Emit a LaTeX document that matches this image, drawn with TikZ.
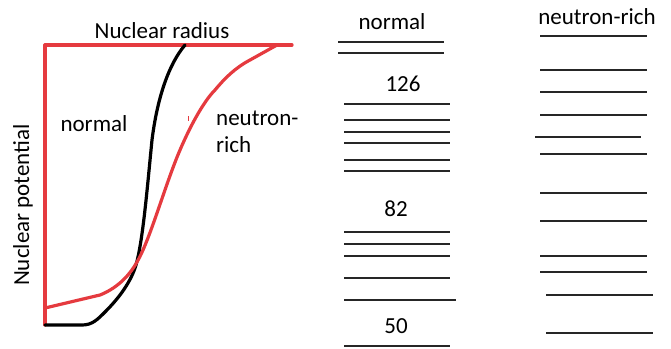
\documentclass[tikz,border=0pt]{standalone}
\usepackage{fontspec}
\setmainfont{Carlito}
\definecolor{axred}{HTML}{E53A3F}
\begin{document}
\begin{tikzpicture}[x=1pt,y=-1pt,
  lbl/.style={font=\fontsize{23}{27}\selectfont, inner sep=0pt, text=black},
  redline/.style={draw=axred, line width=3.2pt, line join=round},
  blkcurve/.style={draw=black, line width=3.2pt, line join=round, line cap=round},
  lvl/.style={draw=black!85, line width=1.5pt}]
\useasboundingbox (0,0) rectangle (671,348);
% axes
\draw[redline, line cap=round] (45,325) -- (45,45) -- (292,45);
% black potential (normal)
\draw[blkcurve] (45,325) -- (82,325) .. controls (92,325) and (97,320) .. (105,312)
  .. controls (115,302) and (130,285) .. (136,265)
  .. controls (143,240) and (147,190) .. (152,140)
  .. controls (157,100) and (168,65) .. (185,45);
% red potential (neutron-rich)
\draw[redline, line cap=round] (45,308) -- (100,295) .. controls (115,289) and (128,278) .. (137,262)
  .. controls (150,240) and (165,185) .. (180,150)
  .. controls (192,122) and (205,100) .. (215,90)
  .. controls (225,78) and (235,68) .. (250,60) -- (277,45);
\fill[axred] (187.5,116) rectangle (189,121);
% labels
\node[lbl] (rad) at (162,31) {Nuclear radius};
\node[lbl, rotate=90] (pot) at (23,205) {Nuclear potential};
\node[lbl] (nl) at (94,124) {normal};
\node[lbl, anchor=west] (nr1) at (216,118) {neutron-};
\node[lbl, anchor=west] (nr2) at (216,145) {rich};
% normal levels
\node[lbl] (hn) at (392,22) {normal};
\foreach \y in {42,53} \draw[lvl] (338,\y) -- (444,\y);
\node[lbl] (n126) at (403,84) {126};
\foreach \y in {104,120,132,143,160,171,232,244,256,278,346} \draw[lvl] (344,\y) -- (450,\y);
\draw[lvl] (344,300) -- (456,300);
\node[lbl] (n82) at (396,209) {82};
\node[lbl] (n50) at (396,326) {50};
% neutron-rich levels
\node[lbl] (hr) at (597,17) {neutron-rich};
\foreach \y in {36,70,92,115,154,193,221,256,272} \draw[lvl] (540,\y) -- (647,\y);
\draw[lvl] (535,137) -- (641,137);
\foreach \y in {295,333} \draw[lvl] (546,\y) -- (653,\y);
\end{tikzpicture}
\end{document}
